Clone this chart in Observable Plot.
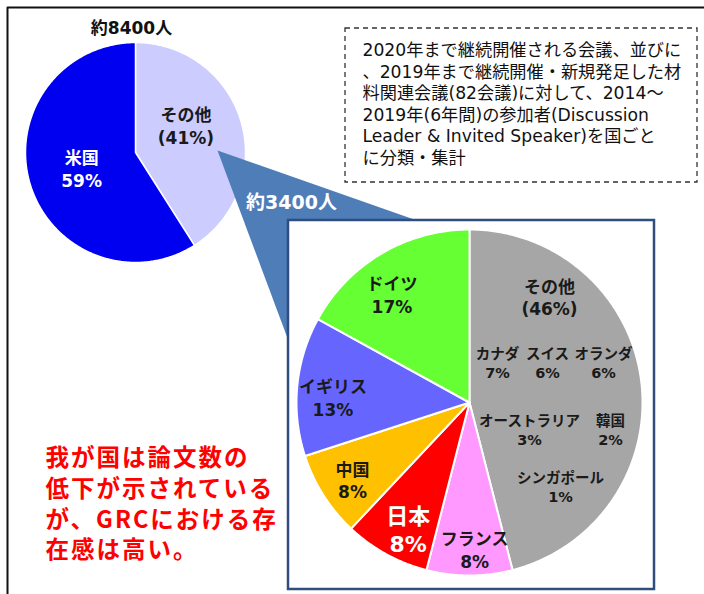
<!DOCTYPE html>
<html>
<head>
<meta charset="utf-8">
<script src="https://cdn.jsdelivr.net/npm/d3@7"></script>
<script src="https://cdn.jsdelivr.net/npm/@observablehq/plot@0.6"></script>
<style>
  html, body { margin: 0; padding: 0; background: #fff; }
</style>
</head>
<body>
<div id="chart"></div>
<script>
// ---- data ----
const totalTitle = "約8400人";
const smallCategories = ["その他", "米国"];
const smallValues = [41, 59];
const smallLabels = ["その他\n(41%)", "米国\n59%"];

const subsetTitle = "約3400人";
const bigCategories = ["その他", "フランス", "日本", "中国", "イギリス", "ドイツ"];
const bigValues = [46, 8, 8, 8, 13, 17];
const bigLabels = ["その他\n(46%)", "フランス\n8%", "日本\n8%", "中国\n8%", "イギリス\n13%", "ドイツ\n17%"];

const otherCountries = ["カナダ", "スイス", "オランダ", "オーストラリア", "韓国", "シンガポール"];
const otherValues = [7, 6, 6, 3, 2, 1];

const noteLines = [
  "2020年まで継続開催される会議、並びに",
  "、2019年まで継続開催・新規発足した材",
  "料関連会議(82会議)に対して、2014～",
  "2019年(6年間)の参加者(Discussion",
  "Leader & Invited Speaker)を国ごと",
  "に分類・集計"
];
const messageLines = ["我が国は論文数の", "低下が示されている", "が、GRCにおける存", "在感は高い。"];

// ---- styles / layout ----
const smallColors = {"その他": "#CCCCFF", "米国": "#0000F0"};
const smallTextColors = {"その他": "#1a1a1a", "米国": "#ffffff"};
const bigColors = {"その他": "#A6A6A6", "フランス": "#FF99FF", "日本": "#FF0000", "中国": "#FFC000", "イギリス": "#6666FF", "ドイツ": "#66FF33"};
const FONT = "DejaVu Sans, 'Noto Sans CJK JP', sans-serif";

const W = 704, H = 594;
const small = {cx: 135, cy: 152, r: 110};
const big = {cx: 469, cy: 402, r: 173};
// label placement: [radial fraction, angle offset in degrees]
const smallLabelPlace = {"その他": [0.52, -12], "米国": [0.51, 0]};
const bigLabelPlace = {"ドイツ": [0.77, -5], "イギリス": [0.79, -3], "中国": [0.81, -1], "日本": [0.815, -3], "フランス": [0.85, -2]};

function slices(cats, vals, geo, place) {
  const arcs = d3.pie().sort(null).value(d => d[1])(cats.map((c, i) => [c, vals[i]]));
  return arcs.map((a, i) => {
    const pts = [{x: geo.cx, y: geo.cy}];
    const n = Math.max(4, Math.ceil((a.endAngle - a.startAngle) / 0.01));
    for (let k = 0; k <= n; k++) {
      const t = a.startAngle + (a.endAngle - a.startAngle) * k / n;
      pts.push({x: geo.cx + geo.r * Math.sin(t), y: geo.cy - geo.r * Math.cos(t)});
    }
    pts.push({x: geo.cx, y: geo.cy});
    const [frac, off] = place[a.data[0]] || [0.8, 0];
    const mid = (a.startAngle + a.endAngle) / 2 + off * Math.PI / 180;
    return {name: a.data[0], value: a.data[1], pts,
      lx: geo.cx + geo.r * frac * Math.sin(mid),
      ly: geo.cy - geo.r * frac * Math.cos(mid)};
  });
}

const smallSlices = slices(smallCategories, smallValues, small, smallLabelPlace);
const bigSlices = slices(bigCategories, bigValues, big, bigLabelPlace);

// callout polygon from the small pie's "その他" slice to the detail box
const callout = [{x: 217, y: 150}, {x: 445, y: 230}, {x: 292, y: 351}, {x: 217, y: 150}];

// annotation positions inside the big "その他" slice
const otherPos = [[497, 362], [547, 362], [603, 362], [529, 429], [610, 429], [560, 486]];
const otherLabelData = otherCountries.map((c, i) => ({text: `${c}\n${otherValues[i]}%`, x: otherPos[i][0], y: otherPos[i][1]}));

const marks = [];
// outer frame
marks.push(Plot.line([{x: 7, y: H + 10}, {x: 7, y: 7}, {x: W + 10, y: 7}], {x: "x", y: "y", stroke: "#111", strokeWidth: 2}));
// small pie
for (const s of smallSlices) {
  marks.push(Plot.line(s.pts, {x: "x", y: "y", fill: smallColors[s.name], stroke: "#fff", strokeWidth: 1.5, strokeLinejoin: "round"}));
}
// callout
marks.push(Plot.line(callout, {x: "x", y: "y", fill: "#4F7DB8", stroke: "none"}));
// small pie labels
smallSlices.forEach((s, i) => {
  marks.push(Plot.text([s], {x: "lx", y: "ly", text: () => smallLabels[i], fill: smallTextColors[s.name], fontSize: 17, fontWeight: "bold", fontFamily: FONT, lineHeight: 1.35}));
});
marks.push(Plot.text([totalTitle], {x: () => 131, y: () => 28, text: d => d, fontSize: 17, fontWeight: "bold", fontFamily: FONT, fill: "#111"}));
marks.push(Plot.text([subsetTitle], {x: () => 291, y: () => 202, text: d => d, fontSize: 19, fontWeight: "bold", fontFamily: FONT, fill: "#fff"}));
// dashed note box
marks.push(Plot.rect([0], {x1: () => 345, x2: () => 697, y1: () => 28, y2: () => 182, fill: "#fff", stroke: "#333", strokeWidth: 1.3, strokeDasharray: "5,4"}));
marks.push(Plot.text(noteLines, {x: () => 362, y: (d, i) => 50 + i * 21.6, text: d => d, textAnchor: "start", fontSize: 17.2, fontFamily: FONT, fill: "#111"}));
// detail box
marks.push(Plot.rect([0], {x1: () => 288, x2: () => 654, y1: () => 220, y2: () => 589, fill: "#fff", stroke: "#2F4E7E", strokeWidth: 2.5}));
// big pie
for (const s of bigSlices) {
  marks.push(Plot.line(s.pts, {x: "x", y: "y", fill: bigColors[s.name], stroke: "#fff", strokeWidth: 2, strokeLinejoin: "round"}));
}
bigSlices.forEach((s, i) => {
  if (s.name === "その他") {
    marks.push(Plot.text([bigLabels[i]], {x: () => 549, y: () => 296, text: d => d, fontSize: 17, fontWeight: "bold", fontFamily: FONT, fill: "#1a1a1a", lineHeight: 1.3}));
  } else if (s.name === "日本") {
    marks.push(Plot.text([s], {x: "lx", y: "ly", text: () => bigLabels[i], fontSize: 22, fontWeight: "bold", fontFamily: FONT, fill: "#fff", lineHeight: 1.27}));
  } else {
    marks.push(Plot.text([s], {x: "lx", y: "ly", text: () => bigLabels[i], fontSize: 17, fontWeight: "bold", fontFamily: FONT, fill: "#1a1a1a", lineHeight: 1.35}));
  }
});
marks.push(Plot.text(otherLabelData, {x: "x", y: "y", text: "text", fontSize: 14.5, fontWeight: 600, fontFamily: FONT, fill: "#1a1a1a", lineHeight: 1.3}));
// message (one text per line)
marks.push(Plot.text(messageLines, {x: () => 45, y: (d, i) => 458 + i * 30.8, text: d => d, textAnchor: "start", fontSize: 23.5, fontWeight: "bold", fontFamily: "'Noto Sans CJK JP', sans-serif", fill: "#FF0000"}));

const plot = Plot.plot({
  width: W, height: H,
  margin: 0,
  x: {domain: [0, W], range: [0, W], axis: null},
  y: {domain: [0, H], range: [0, H], axis: null},
  style: {background: "#fff", overflow: "hidden"},
  marks
});
d3.select(plot).selectAll("text")
  .filter(function () { return messageLines.includes(this.textContent); })
  .style("letter-spacing", "2px");
document.getElementById("chart").appendChild(plot);
</script>
</body>
</html>
